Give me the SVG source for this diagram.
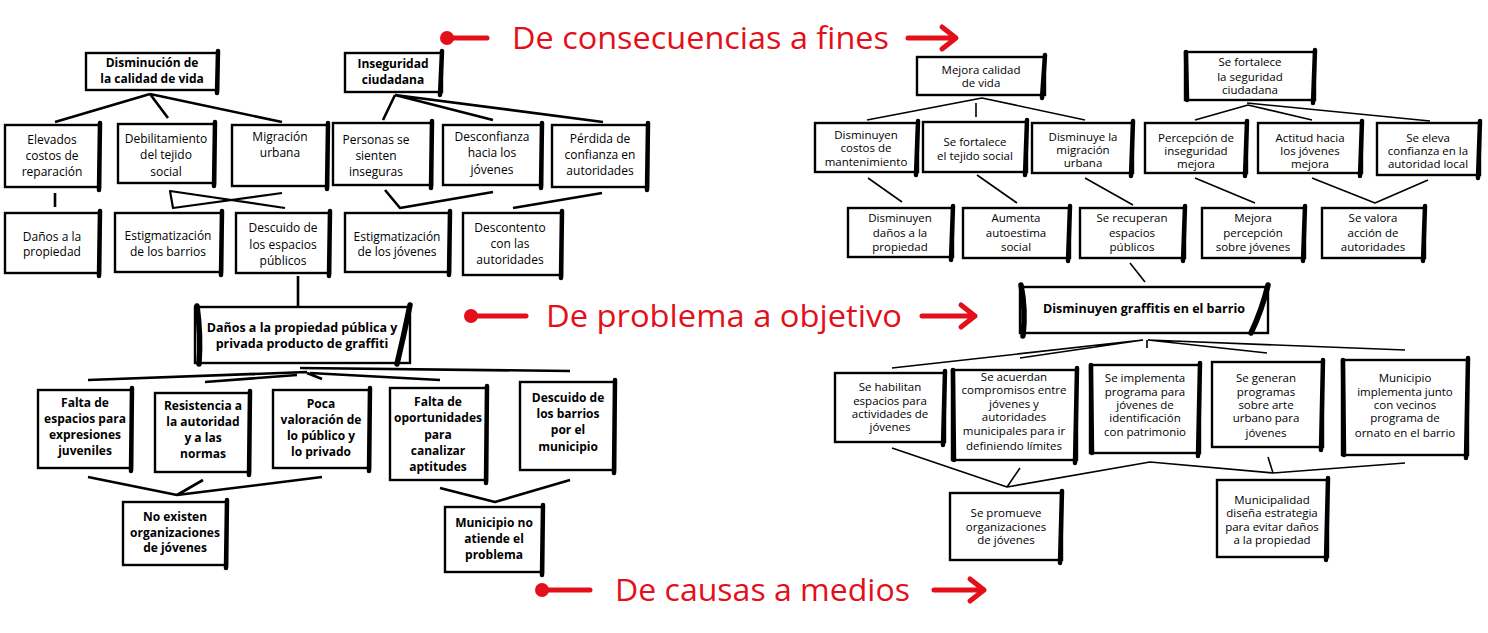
<svg xmlns="http://www.w3.org/2000/svg" width="1488" height="633" viewBox="0 0 1488 633">
<style>
.bx{fill:#fff;stroke:#000;stroke-width:2.4}
.rt{fill:none;stroke:#000;stroke-width:4.5;stroke-linecap:round}
.lt{fill:none;stroke:#000;stroke-width:5.5;stroke-linecap:round}
.t{font-family:"Open Sans","Liberation Sans",sans-serif;font-size:12px;text-anchor:middle;fill:#000}
.b{font-weight:bold}
.r{font-size:11.5px}
.m{font-size:12.5px;font-weight:bold}
.c path{fill:none;stroke:#000;stroke-width:2.6;stroke-linejoin:round}
.c .thin{stroke-width:1.6}
.red{font-family:"Open Sans","Liberation Sans",sans-serif;font-size:31px;fill:#E3101A}
.rl{fill:none;stroke:#E3101A;stroke-width:5;stroke-linecap:round;stroke-linejoin:round}
</style>
<rect width="1488" height="633" fill="#fff"/>

<g id="connectors" class="c">
<path d="M150,94 L55,122 M150,94 L168,118 M150,94 L282,122"/>
<path d="M395,95 L383,120 M395,95 L493,120 M395,95 L603,122"/>
<path d="M55,193 L55,207"/>
<path d="M282,193 L173,208 L170,191 L285,208" style="stroke-width:2.2"/>
<path d="M385,190 L400,208 L493,192"/>
<path d="M513,208 L602,193"/>
<path d="M298,276 L298,307"/>
<path d="M88,380 L307,372 M205,382 L297,375 M300,368 L570,371 M310,373 L440,380 M307,373 L322,379"/>
<path d="M88,477 L177,495 L322,477 M203,480 L177,495"/>
<path d="M440,488 L495,502 L570,480"/>
<path class="thin" d="M982,98 L867,120 M982,98 L1085,120 M976,103 L976,117"/>
<path class="thin" d="M1248,105 L1195,120 M1248,105 L1312,120 M1247,103 L1430,121"/>
<path class="thin" d="M868,178 L902,202 M977,175 L1017,203 M1085,178 L1133,205 M1195,178 L1255,203 M1312,178 L1375,203 L1428,180"/>
<path class="thin" d="M1130,263 L1145,282"/>
<path class="thin" d="M892,368 L1143,340 M1020,358 L1143,340 M1147,340 L1147,348 M1148,340 L1267,353 M1148,340 L1405,350"/>
<path class="thin" d="M892,448 L1007,487 L1150,462 L1273,473 L1405,463 M1020,468 L1007,487 M1268,457 L1273,473"/>
</g>

<g id="n-A1"><rect class="bx" x="86" y="53" width="132" height="37"/><path class="rt" d="M218,51 L217,93"/><text class="t b"><tspan x="152" y="67">Disminución de</tspan><tspan x="152" y="83">la calidad de vida</tspan></text></g>
<g id="n-A2"><rect class="bx" x="345" y="53" width="97" height="39"/><path class="rt" d="M442,51 L440,95"/><text class="t b"><tspan x="393" y="68">Inseguridad</tspan><tspan x="393" y="84">ciudadana</tspan></text></g>
<g id="n-B1"><rect class="bx" x="5" y="125" width="95" height="62"/><path class="rt" d="M100,123 L99,190"/><text class="t"><tspan x="52" y="144">Elevados</tspan><tspan x="52" y="160">costos de</tspan><tspan x="52" y="176">reparación</tspan></text></g>
<g id="n-B2"><rect class="bx" x="118" y="124" width="97" height="59"/><path class="rt" d="M215,122 L214,186"/><text class="t"><tspan x="166" y="143">Debilitamiento</tspan><tspan x="166" y="159">del tejido</tspan><tspan x="166" y="176">social</tspan></text></g>
<g id="n-B3"><rect class="bx" x="232" y="125" width="96" height="61"/><path class="rt" d="M328,123 L327,189"/><text class="t"><tspan x="280" y="141">Migración</tspan><tspan x="280" y="157">urbana</tspan></text></g>
<g id="n-B4"><rect class="bx" x="333" y="123" width="99" height="62"/><path class="rt" d="M432,121 L431,188"/><text class="t"><tspan x="376" y="144">Personas se</tspan><tspan x="376" y="160">sienten</tspan><tspan x="376" y="176">inseguras</tspan></text></g>
<g id="n-B5"><rect class="bx" x="443" y="125" width="99" height="60"/><path class="rt" d="M542,123 L541,188"/><text class="t"><tspan x="492" y="141">Desconfianza</tspan><tspan x="492" y="157">hacia los</tspan><tspan x="492" y="174">jóvenes</tspan></text></g>
<g id="n-B6"><rect class="bx" x="552" y="125" width="96" height="62"/><path class="rt" d="M648,123 L647,190"/><text class="t"><tspan x="600" y="143">Pérdida de</tspan><tspan x="600" y="159">confianza  en</tspan><tspan x="600" y="175">autoridades</tspan></text></g>
<g id="n-C1"><rect class="bx" x="5" y="213" width="95" height="60"/><path class="rt" d="M100,211 L99,276"/><text class="t"><tspan x="52" y="241">Daños a la</tspan><tspan x="52" y="256">propiedad</tspan></text></g>
<g id="n-C2"><rect class="bx" x="115" y="213" width="107" height="59"/><path class="rt" d="M222,211 L221,275"/><text class="t"><tspan x="168" y="240">Estigmatización</tspan><tspan x="168" y="256">de los barrios</tspan></text></g>
<g id="n-C3"><rect class="bx" x="236" y="213" width="94" height="60"/><path class="rt" d="M330,211 L329,276"/><text class="t"><tspan x="283" y="232">Descuido de</tspan><tspan x="283" y="249">los espacios</tspan><tspan x="283" y="265">públicos</tspan></text></g>
<g id="n-C4"><rect class="bx" x="345" y="213" width="105" height="59"/><path class="rt" d="M450,211 L449,275"/><text class="t"><tspan x="397" y="241">Estigmatización</tspan><tspan x="397" y="256">de los jóvenes</tspan></text></g>
<g id="n-C5"><rect class="bx" x="463" y="213" width="99" height="62"/><path class="rt" d="M562,211 L561,278"/><text class="t"><tspan x="510" y="232">Descontento</tspan><tspan x="510" y="248">con las</tspan><tspan x="510" y="264">autoridades</tspan></text></g>

<g id="n-M1"><rect class="bx" x="195" y="307" width="215" height="56"/><path class="lt" d="M197,306 Q201,335 199,364"/><path class="lt" d="M410,305 Q404,335 397,364"/><text class="t m"><tspan x="302" y="332">Daños a la propiedad pública y</tspan><tspan x="302" y="348">privada producto de graffiti</tspan></text></g>

<g id="n-D1"><rect class="bx" x="38" y="390" width="94" height="78"/><path class="rt" d="M132,388 L131,471"/><text class="t b"><tspan x="85" y="407">Falta de</tspan><tspan x="85" y="423">espacios para</tspan><tspan x="85" y="439">expresiones</tspan><tspan x="85" y="455">juveniles</tspan></text></g>
<g id="n-D2"><rect class="bx" x="155" y="393" width="95" height="79"/><path class="rt" d="M250,391 L249,475"/><text class="t b"><tspan x="203" y="410">Resistencia a</tspan><tspan x="203" y="426">la autoridad</tspan><tspan x="203" y="442">y a las</tspan><tspan x="203" y="458">normas</tspan></text></g>
<g id="n-D3"><rect class="bx" x="273" y="390" width="97" height="78"/><path class="rt" d="M370,388 L369,471"/><text class="t b"><tspan x="321" y="408">Poca</tspan><tspan x="321" y="424">valoración de</tspan><tspan x="321" y="440">lo público y</tspan><tspan x="321" y="456">lo privado</tspan></text></g>
<g id="n-D4"><rect class="bx" x="390" y="388" width="97" height="92"/><path class="rt" d="M487,386 L486,483"/><text class="t b"><tspan x="438" y="406">Falta de</tspan><tspan x="438" y="422">oportunidades</tspan><tspan x="438" y="439">para</tspan><tspan x="438" y="455">canalizar</tspan><tspan x="438" y="471">aptitudes</tspan></text></g>
<g id="n-D5"><rect class="bx" x="520" y="382" width="95" height="88"/><path class="rt" d="M615,380 L614,473"/><text class="t b"><tspan x="568" y="402">Descuido de</tspan><tspan x="568" y="418">los barrios</tspan><tspan x="568" y="434">por el</tspan><tspan x="568" y="451">municipio</tspan></text></g>
<g id="n-E1"><rect class="bx" x="123" y="502" width="104" height="63"/><path class="rt" d="M227,500 L226,568"/><text class="t b"><tspan x="175" y="521">No existen</tspan><tspan x="175" y="537">organizaciones</tspan><tspan x="175" y="552">de jóvenes</tspan></text></g>
<g id="n-E2"><rect class="bx" x="445" y="507" width="98" height="65"/><path class="rt" d="M543,505 L542,575"/><text class="t b"><tspan x="494" y="527">Municipio no</tspan><tspan x="494" y="543">atiende el</tspan><tspan x="494" y="559">problema</tspan></text></g>

<g id="n-F1"><rect class="bx" x="917" y="57" width="128" height="38"/><path class="rt" d="M1045,55 L1042,98"/><text class="t r"><tspan x="981" y="74">Mejora calidad</tspan><tspan x="981" y="87">de vida</tspan></text></g>
<g id="n-F2"><rect class="bx" x="1185" y="52" width="130" height="48"/><path class="rt" d="M1315,50 L1313,103"/><path class="rt" d="M1186,52 L1187,100"/><text class="t r"><tspan x="1250" y="66">Se fortalece</tspan><tspan x="1250" y="81">la seguridad</tspan><tspan x="1250" y="94">ciudadana</tspan></text></g>
<g id="n-G1"><rect class="bx" x="815" y="123" width="103" height="49"/><path class="rt" d="M918,121 L916,175"/><text class="t r"><tspan x="866" y="139">Disminuyen</tspan><tspan x="866" y="152">costos de</tspan><tspan x="866" y="166">mantenimiento</tspan></text></g>
<g id="n-G2"><rect class="bx" x="923" y="122" width="104" height="50"/><path class="rt" d="M1027,120 L1025,175"/><text class="t r"><tspan x="975" y="146">Se fortalece</tspan><tspan x="975" y="160">el tejido social</tspan></text></g>
<g id="n-G3"><rect class="bx" x="1032" y="123" width="101" height="50"/><path class="rt" d="M1133,121 L1131,176"/><text class="t r"><tspan x="1083" y="141">Disminuye la</tspan><tspan x="1083" y="154">migración</tspan><tspan x="1083" y="167">urbana</tspan></text></g>
<g id="n-G4"><rect class="bx" x="1145" y="123" width="102" height="50"/><path class="rt" d="M1247,121 L1245,176"/><text class="t r"><tspan x="1196" y="142">Percepción de</tspan><tspan x="1196" y="155">inseguridad</tspan><tspan x="1196" y="168">mejora</tspan></text></g>
<g id="n-G5"><rect class="bx" x="1258" y="123" width="104" height="50"/><path class="rt" d="M1362,121 L1360,176"/><text class="t r"><tspan x="1310" y="142">Actitud hacia</tspan><tspan x="1310" y="155">los jóvenes</tspan><tspan x="1310" y="168">mejora</tspan></text></g>
<g id="n-G6"><rect class="bx" x="1377" y="123" width="103" height="52"/><path class="rt" d="M1480,121 L1478,178"/><text class="t r"><tspan x="1428" y="142">Se eleva</tspan><tspan x="1428" y="155">confianza en la</tspan><tspan x="1428" y="168">autoridad local</tspan></text></g>
<g id="n-H1"><rect class="bx" x="848" y="208" width="105" height="49"/><path class="rt" d="M953,206 L951,260"/><text class="t r"><tspan x="900" y="222">Disminuyen</tspan><tspan x="900" y="237">daños a la</tspan><tspan x="900" y="251">propiedad</tspan></text></g>
<g id="n-H2"><rect class="bx" x="963" y="208" width="107" height="50"/><path class="rt" d="M1070,206 L1068,261"/><text class="t r"><tspan x="1016" y="222">Aumenta</tspan><tspan x="1016" y="237">autoestima</tspan><tspan x="1016" y="251">social</tspan></text></g>
<g id="n-H3"><rect class="bx" x="1080" y="208" width="105" height="50"/><path class="rt" d="M1185,206 L1183,261"/><text class="t r"><tspan x="1132" y="222">Se recuperan</tspan><tspan x="1132" y="237">espacios</tspan><tspan x="1132" y="251">públicos</tspan></text></g>
<g id="n-H4"><rect class="bx" x="1202" y="208" width="103" height="50"/><path class="rt" d="M1305,206 L1303,261"/><text class="t r"><tspan x="1253" y="222">Mejora</tspan><tspan x="1253" y="237">percepción</tspan><tspan x="1253" y="251">sobre jóvenes</tspan></text></g>
<g id="n-H5"><rect class="bx" x="1322" y="208" width="103" height="50"/><path class="rt" d="M1425,206 L1423,261"/><text class="t r"><tspan x="1373" y="222">Se valora</tspan><tspan x="1373" y="237">acción de</tspan><tspan x="1373" y="251">autoridades</tspan></text></g>

<g id="n-M2"><rect class="bx" x="1020" y="287" width="248" height="46"/><path class="lt" d="M1021,285 Q1026,310 1023,336"/><path class="lt" d="M1268,285 Q1262,310 1251,333"/><text class="t m"><tspan x="1144" y="313">Disminuyen graffitis en el barrio</tspan></text></g>

<g id="n-I1"><rect class="bx" x="835" y="373" width="110" height="69"/><path class="rt" d="M945,371 L943,445"/><text class="t r"><tspan x="890" y="391">Se habilitan</tspan><tspan x="890" y="405">espacios para</tspan><tspan x="890" y="418">actividades de</tspan><tspan x="890" y="431">jóvenes</tspan></text></g>
<g id="n-I2"><rect class="bx" x="952" y="370" width="125" height="90"/><path class="rt" d="M1077,368 L1075,463"/><path class="rt" d="M953,370 L954,460"/><text class="t r"><tspan x="1014" y="381">Se acuerdan</tspan><tspan x="1014" y="394">compromisos entre</tspan><tspan x="1014" y="408">jóvenes y</tspan><tspan x="1014" y="421">autoridades</tspan><tspan x="1014" y="435">municipales para ir</tspan><tspan x="1014" y="450">definiendo límites</tspan></text></g>
<g id="n-I3"><rect class="bx" x="1090" y="365" width="110" height="88"/><path class="rt" d="M1200,363 L1198,456"/><path class="rt" d="M1091,365 L1092,453"/><text class="t r"><tspan x="1145" y="382">Se implementa</tspan><tspan x="1145" y="396">programa para</tspan><tspan x="1145" y="409">jóvenes de</tspan><tspan x="1145" y="422">identificación</tspan><tspan x="1145" y="436">con patrimonio</tspan></text></g>
<g id="n-I4"><rect class="bx" x="1212" y="362" width="111" height="85"/><path class="rt" d="M1323,360 L1321,450"/><text class="t r"><tspan x="1266" y="382">Se generan</tspan><tspan x="1266" y="396">programas</tspan><tspan x="1266" y="409">sobre arte</tspan><tspan x="1266" y="422">urbano para</tspan><tspan x="1266" y="437">jóvenes</tspan></text></g>
<g id="n-I5"><rect class="bx" x="1342" y="360" width="126" height="95"/><path class="rt" d="M1468,358 L1466,458"/><path class="rt" d="M1343,360 L1344,455"/><text class="t r"><tspan x="1405" y="382">Municipio</tspan><tspan x="1405" y="396">implementa  junto</tspan><tspan x="1405" y="409">con vecinos</tspan><tspan x="1405" y="422">programa de</tspan><tspan x="1405" y="437">ornato en el barrio</tspan></text></g>
<g id="n-J1"><rect class="bx" x="950" y="493" width="112" height="67"/><path class="rt" d="M1062,491 L1060,563"/><text class="t r"><tspan x="1006" y="517">Se promueve</tspan><tspan x="1006" y="531">organizaciones</tspan><tspan x="1006" y="544">de jóvenes</tspan></text></g>
<g id="n-J2"><rect class="bx" x="1217" y="480" width="111" height="77"/><path class="rt" d="M1328,478 L1326,560"/><text class="t r"><tspan x="1272" y="504">Municipalidad</tspan><tspan x="1272" y="517">diseña estrategia</tspan><tspan x="1272" y="531">para evitar daños</tspan><tspan x="1272" y="544">a la propiedad</tspan></text></g>

<g id="label-fines">
<circle cx="447" cy="38" r="7" fill="#E3101A"/><path class="rl" d="M447,38 L487,38"/>
<text class="red" x="512" y="49" textLength="377" lengthAdjust="spacingAndGlyphs">De consecuencias a fines</text>
<path class="rl" d="M908,38 L955,38 M942,27 L956,38 L942,49"/>
</g>
<g id="label-objetivo">
<circle cx="471" cy="316" r="7" fill="#E3101A"/><path class="rl" d="M471,316 L526,316"/>
<text class="red" x="546" y="327" textLength="356" lengthAdjust="spacingAndGlyphs">De problema a objetivo</text>
<path class="rl" d="M922,316 L975,316 M961,305 L975,316 L961,327"/>
</g>
<g id="label-medios">
<circle cx="542" cy="590" r="7" fill="#E3101A"/><path class="rl" d="M542,590 L590,590"/>
<text class="red" x="615" y="601" textLength="295" lengthAdjust="spacingAndGlyphs">De causas a medios</text>
<path class="rl" d="M934,590 L984,590 M970,579 L984,590 L970,601"/>
</g>
</svg>
